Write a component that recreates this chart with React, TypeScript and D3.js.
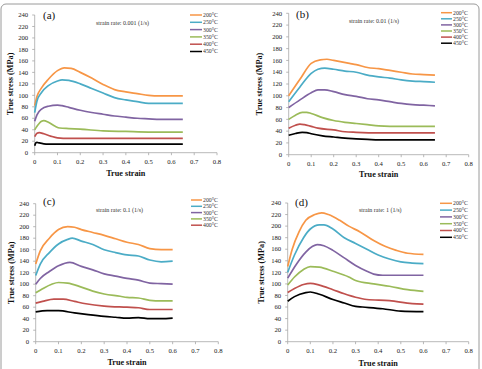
import React from "react";
import * as d3 from "d3";

// temperatures and line colours (Excel 2007 palette)
const temps = ["200°C", "250°C", "300°C", "350°C", "400°C", "450°C"];
const colors = ["#f79646", "#4bacc6", "#8064a2", "#9bbb59", "#c0504d", "#000000"];

const yTicks = [0, 20, 40, 60, 80, 100, 120, 140, 160, 180, 200, 220, 240];
const xTicks = [0, 0.1, 0.2, 0.3, 0.4, 0.5, 0.6, 0.7, 0.8];

// (a) strain rate 0.001 1/s  -> [true strain, true stress MPa]
const a200 = [[0, 82], [0.01, 98], [0.03, 113], [0.06, 128], [0.1, 143], [0.13, 148], [0.16, 147], [0.2, 140], [0.25, 130], [0.3, 119], [0.35, 110], [0.4, 106], [0.45, 103], [0.5, 100], [0.55, 99], [0.6, 99], [0.65, 99]];
const a250 = [[0, 70], [0.01, 90], [0.03, 105], [0.06, 117], [0.1, 125], [0.12, 127], [0.15, 126], [0.2, 120], [0.25, 112], [0.3, 104], [0.35, 96], [0.4, 92], [0.45, 89], [0.5, 86], [0.55, 86], [0.6, 86], [0.65, 86]];
const a300 = [[0, 55], [0.01, 66], [0.03, 76], [0.06, 81], [0.1, 83], [0.12, 82], [0.15, 79], [0.2, 74], [0.25, 70], [0.3, 67], [0.35, 64], [0.4, 62], [0.45, 60], [0.5, 59], [0.55, 58], [0.65, 58]];
const a350 = [[0, 40], [0.01, 46], [0.03, 55], [0.04, 56], [0.06, 53], [0.09, 46], [0.11, 43], [0.15, 42], [0.2, 41], [0.3, 38], [0.4, 37], [0.5, 36], [0.65, 36]];
const a400 = [[0, 28], [0.01, 34], [0.02, 35], [0.04, 33], [0.07, 29], [0.1, 26], [0.15, 25], [0.3, 25], [0.5, 25], [0.65, 25]];
const a450 = [[0, 12], [0.005, 17], [0.01, 18], [0.02, 17], [0.04, 15.5], [0.06, 15], [0.3, 15], [0.65, 15]];

// (b) strain rate 0.01 1/s
const b200 = [[0, 100], [0.05, 128], [0.1, 155], [0.14, 161], [0.17, 162], [0.2, 160], [0.27, 155], [0.3, 153], [0.35, 148], [0.4, 146], [0.45, 143], [0.5, 140], [0.55, 137], [0.6, 136], [0.65, 135]];
const b250 = [[0, 90], [0.05, 115], [0.1, 138], [0.13, 145], [0.16, 147], [0.2, 145], [0.25, 142], [0.3, 140], [0.35, 135], [0.4, 132], [0.45, 130], [0.5, 127], [0.55, 125], [0.6, 124], [0.65, 123]];
const b300 = [[0, 80], [0.05, 93], [0.1, 105], [0.13, 110], [0.16, 110], [0.2, 107], [0.25, 102], [0.3, 99], [0.35, 95], [0.4, 93], [0.45, 90], [0.5, 87], [0.55, 85], [0.6, 84], [0.65, 83]];
const b350 = [[0, 60], [0.03, 67], [0.06, 72], [0.08, 72], [0.1, 70], [0.15, 63], [0.2, 58], [0.25, 55], [0.3, 53], [0.35, 51], [0.4, 49], [0.5, 48], [0.65, 48]];
const b400 = [[0, 45], [0.03, 50], [0.05, 52], [0.07, 51], [0.1, 48], [0.13, 45], [0.2, 42], [0.25, 39], [0.3, 38], [0.4, 37], [0.5, 37], [0.65, 37]];
const b450 = [[0, 33], [0.03, 36], [0.06, 38], [0.08, 37.5], [0.1, 35.5], [0.15, 32], [0.2, 30], [0.25, 28], [0.3, 27], [0.35, 26], [0.4, 25], [0.5, 25], [0.65, 25]];

// (c) strain rate 0.1 1/s
const c200 = [[0, 135], [0.02, 158], [0.06, 180], [0.1, 195], [0.14, 200], [0.17, 199], [0.2, 195], [0.25, 190], [0.3, 185], [0.35, 179], [0.4, 173], [0.45, 169], [0.5, 162], [0.55, 160], [0.6, 160]];
const c250 = [[0, 115], [0.02, 135], [0.06, 155], [0.1, 170], [0.14, 178], [0.16, 180], [0.2, 175], [0.25, 169], [0.3, 160], [0.35, 155], [0.4, 151], [0.45, 149], [0.5, 142], [0.55, 139], [0.6, 140]];
const c300 = [[0, 100], [0.02, 110], [0.06, 122], [0.1, 132], [0.15, 138], [0.2, 131], [0.25, 125], [0.3, 118], [0.35, 114], [0.4, 110], [0.45, 107], [0.5, 102], [0.55, 101], [0.6, 100]];
const c350 = [[0, 85], [0.03, 92], [0.07, 100], [0.1, 103], [0.14, 102], [0.2, 95], [0.25, 88], [0.3, 83], [0.37, 79], [0.4, 77], [0.45, 76], [0.5, 72], [0.55, 71], [0.6, 71]];
const c400 = [[0, 67], [0.03, 70], [0.08, 74], [0.12, 74], [0.17, 70], [0.22, 66], [0.3, 62], [0.4, 60], [0.45, 59], [0.5, 56], [0.55, 56], [0.6, 56]];
const c450 = [[0, 52], [0.05, 54], [0.1, 54], [0.17, 50], [0.23, 47], [0.3, 44], [0.35, 42.5], [0.4, 41], [0.45, 42], [0.5, 40], [0.55, 40], [0.6, 41]];

// (d) strain rate 1 1/s
const d200 = [[0, 130], [0.02, 160], [0.05, 190], [0.08, 210], [0.12, 220], [0.15, 223], [0.18, 220], [0.23, 210], [0.27, 200], [0.32, 190], [0.38, 175], [0.43, 165], [0.48, 158], [0.53, 153], [0.6, 151]];
const d250 = [[0, 120], [0.03, 150], [0.07, 180], [0.1, 195], [0.14, 202], [0.16, 202], [0.2, 195], [0.25, 180], [0.3, 170], [0.35, 160], [0.4, 150], [0.45, 143], [0.5, 138], [0.55, 136], [0.6, 135]];
const d300 = [[0, 110], [0.04, 135], [0.08, 155], [0.11, 165], [0.13, 168], [0.16, 166], [0.2, 158], [0.25, 145], [0.3, 132], [0.35, 122], [0.38, 117], [0.42, 115], [0.5, 115], [0.6, 115]];
const d350 = [[0, 98], [0.03, 112], [0.07, 125], [0.1, 130], [0.14, 129], [0.2, 122], [0.27, 112], [0.3, 106], [0.38, 100], [0.45, 96], [0.53, 90], [0.6, 87]];
const d400 = [[0, 85], [0.03, 92], [0.07, 99], [0.1, 101], [0.14, 98], [0.2, 90], [0.25, 83], [0.3, 77], [0.35, 73], [0.45, 71], [0.55, 66], [0.6, 65]];
const d450 = [[0, 70], [0.03, 78], [0.08, 85], [0.1, 86], [0.14, 82], [0.2, 73], [0.25, 67], [0.3, 61], [0.33, 60], [0.42, 57], [0.5, 53], [0.6, 52]];

const panels = [
  {
    tag: "(a)", rate: "strain rate: 0.001 (1/s)", series: [a200, a250, a300, a350, a400, a450], legendCount: 6,
    x0: 34.7, x1: 217, y0: 152.7, y1: 15,
    tagPos: [43, 19], ratePos: [96, 25], legend: { x: 190, w: 12, y: 15, dy: 7.3 },
    xTitleDy: 23.5, yTitleDx: 24.4,
  },
  {
    tag: "(b)", rate: "strain rate: 0.01 (1/s)", series: [b200, b250, b300, b350, b400, b450], legendCount: 6,
    x0: 288.7, x1: 468.7, y0: 154.7, y1: 13.3,
    tagPos: [296, 18], ratePos: [349, 22.5], legend: { x: 441, w: 11, y: 12.7, dy: 6.1 },
    xTitleDy: 22.5, yTitleDx: 29.4,
  },
  {
    tag: "(c)", rate: "strain rate: 0.1 (1/s)", series: [c200, c250, c300, c350, c400, c450], legendCount: 5,
    x0: 35.7, x1: 218.3, y0: 341.7, y1: 203.7,
    tagPos: [43, 205], ratePos: [96, 211.5], legend: { x: 191, w: 11, y: 200, dy: 6.3 },
    xTitleDy: 23.5, yTitleDx: 24.5,
  },
  {
    tag: "(d)", rate: "strain rate: 1 (1/s)", series: [d200, d250, d300, d350, d400, d450], legendCount: 6,
    x0: 287.7, x1: 468.7, y0: 341.7, y1: 203,
    tagPos: [295, 205.5], ratePos: [359, 211.5], legend: { x: 440, w: 12, y: 203.3, dy: 6.8 },
    xTitleDy: 24.5, yTitleDx: 26.2,
  },
];

const serif = "'Liberation Serif', 'Times New Roman', serif";
const axisColor = "#a6a6a6";

const Panel = ({ p }: { p: (typeof panels)[number] }) => {
  const x = d3.scaleLinear().domain([0, 0.8]).range([p.x0, p.x1]);
  const y = d3.scaleLinear().domain([0, 240]).range([p.y0, p.y1]);
  const line = d3
    .line<number[]>()
    .x((d) => x(d[0]))
    .y((d) => y(d[1]))
    .curve(d3.curveMonotoneX);

  return (
    <g fontFamily={serif}>
      {/* axes */}
      <line x1={p.x0} x2={p.x0} y1={p.y0} y2={p.y1} stroke={axisColor} strokeWidth={0.8} />
      <line x1={p.x0} x2={p.x1} y1={p.y0} y2={p.y0} stroke={axisColor} strokeWidth={0.8} />
      {yTicks.map((t) => (
        <g key={"y" + t}>
          <line x1={p.x0 - 2.5} x2={p.x0} y1={y(t)} y2={y(t)} stroke={axisColor} strokeWidth={0.8} />
          <text x={p.x0 - 6.5} y={y(t)} dy="0.33em" textAnchor="end" fontSize={6.7} fill="#222">
            {t}
          </text>
        </g>
      ))}
      {xTicks.map((t) => (
        <g key={"x" + t}>
          <line x1={x(t)} x2={x(t)} y1={p.y0} y2={p.y0 + 2.5} stroke={axisColor} strokeWidth={0.8} />
          <text x={x(t)} y={p.y0 + 11.5} textAnchor="middle" fontSize={6.7} fill="#222">
            {d3.format("~g")(t)}
          </text>
        </g>
      ))}
      <text
        x={(p.x0 + p.x1) / 2}
        y={p.y0 + p.xTitleDy}
        textAnchor="middle"
        fontSize={8.2}
        fontWeight="bold"
        fill="#111"
      >
        True strain
      </text>
      <text
        transform={`translate(${p.x0 - p.yTitleDx},${(p.y0 + p.y1) / 2}) rotate(-90)`}
        dy="0.33em"
        textAnchor="middle"
        fontSize={8.2}
        fontWeight="bold"
        fill="#111"
      >
        True stress (MPa)
      </text>

      {/* curves */}
      {p.series.map((s, i) => (
        <path key={i} d={line(s) ?? ""} fill="none" stroke={colors[i]} strokeWidth={1.7} strokeLinejoin="round" />
      ))}

      <text x={p.tagPos[0]} y={p.tagPos[1]} fontSize={11} fill="#111">
        {p.tag}
      </text>
      <text x={p.ratePos[0]} y={p.ratePos[1]} fontSize={6} fill="#333">
        {p.rate}
      </text>

      {/* legend */}
      {temps.slice(0, p.legendCount).map((t, i) => {
        const ly = p.legend.y + i * p.legend.dy;
        return (
          <g key={t}>
            <line x1={p.legend.x} x2={p.legend.x + p.legend.w} y1={ly} y2={ly} stroke={colors[i]} strokeWidth={1.5} />
            <text x={p.legend.x + p.legend.w + 1} y={ly} dy="0.33em" fontSize={5.8} fill="#333">
              {t}
            </text>
          </g>
        );
      })}
    </g>
  );
};

export default function App() {
  return (
    <svg
      width={482}
      height={369}
      style={{ position: "absolute", left: 0, top: 0, background: "#fff" }}
    >
      <rect x={1} y={4} width={478} height={370} rx={5} fill="#fff" stroke="#9a9a9a" strokeWidth={1} />
      {panels.map((p) => (
        <Panel key={p.tag} p={p} />
      ))}
    </svg>
  );
}
